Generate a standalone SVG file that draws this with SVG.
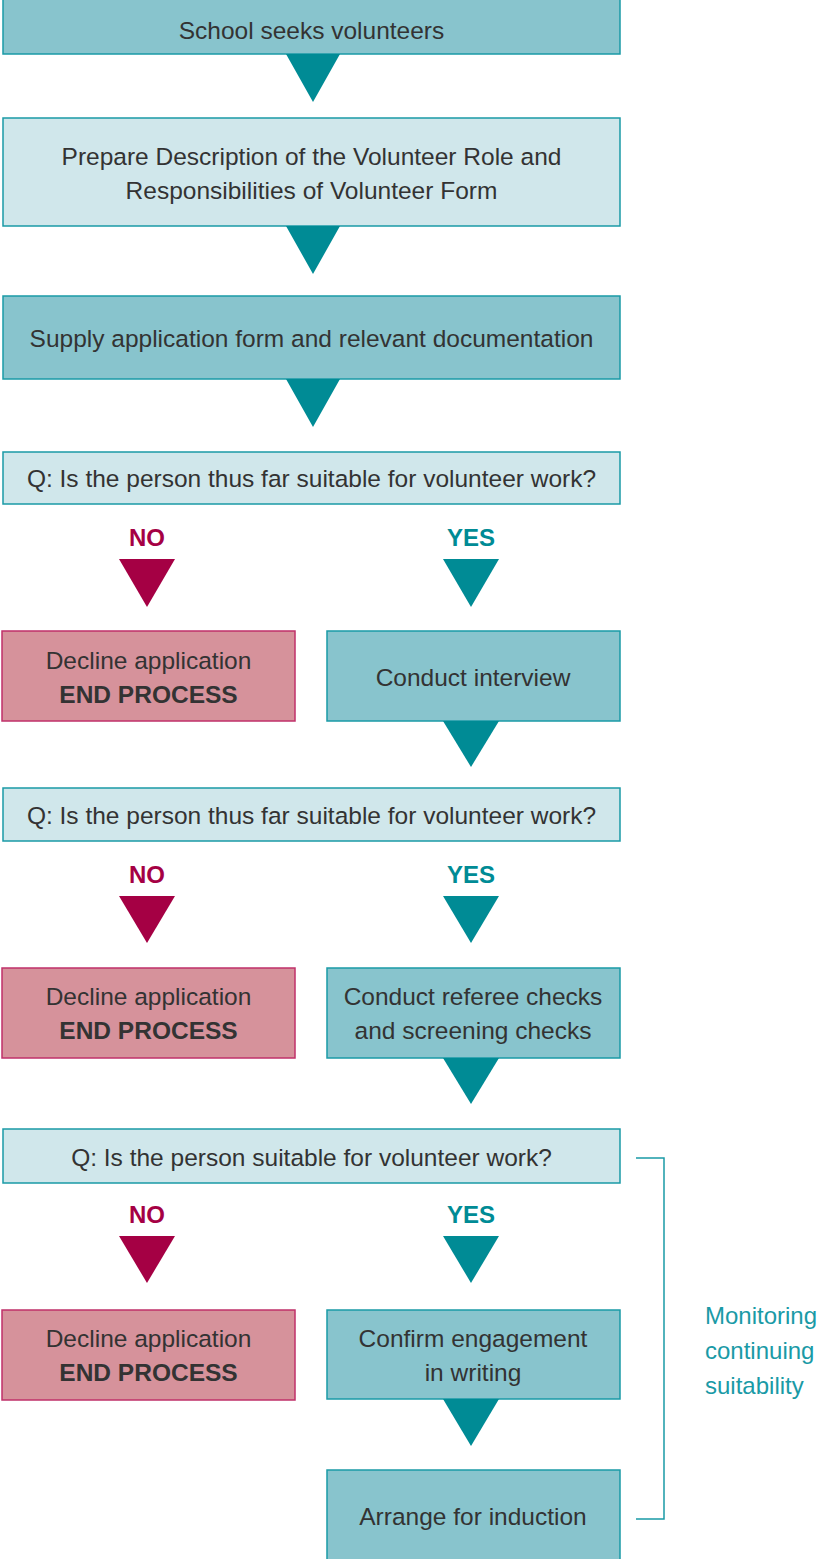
<svg xmlns="http://www.w3.org/2000/svg" width="821" height="1559" viewBox="0 0 821 1559">
<style>
.mid{fill:#88c4cd;stroke:#1a9aa6;stroke-width:1.5}
.lt{fill:#d0e7eb;stroke:#1a9aa6;stroke-width:1.5}
.pk{fill:#d6929b;stroke:#c0306a;stroke-width:1.5}
.ta{fill:#008b95}
.tm{fill:#a50044}
text{font-family:"Liberation Sans",Arial,sans-serif;font-size:24.5px;fill:#333333;text-anchor:middle}
.b{font-weight:bold}
.no{font-weight:bold;font-size:24px;fill:#a50044}
.yes{font-weight:bold;font-size:24px;fill:#008b95}
.mon{fill:#1a9aa6;text-anchor:start;font-size:24px}
.br{fill:none;stroke:#1a9aa6;stroke-width:1.5}
</style>
<g id="n1"><rect class="mid" x="3" y="-2" width="617" height="56"/><text x="311.5" y="39">School seeks volunteers</text></g>
<g id="n2"><rect class="lt" x="3" y="118" width="617" height="108"/><text x="311.5" y="165">Prepare Description of the Volunteer Role and</text><text x="311.5" y="199">Responsibilities of Volunteer Form</text></g>
<g id="n3"><rect class="mid" x="3" y="296" width="617" height="83"/><text x="311.5" y="347">Supply application form and relevant documentation</text></g>
<g id="q1"><rect class="lt" x="3" y="452" width="617" height="52"/><text x="311.5" y="487">Q: Is the person thus far suitable for volunteer work?</text></g>
<g id="no1"><text class="no" x="147" y="546">NO</text></g>
<g id="yes1"><text class="yes" x="471" y="546">YES</text></g>
<g id="d1"><rect class="pk" x="2" y="631" width="293" height="90"/><text x="148.5" y="669">Decline application</text><text class="b" x="148.5" y="703">END PROCESS</text></g>
<g id="c1"><rect class="mid" x="327" y="631" width="293" height="90"/><text x="473" y="686">Conduct interview</text></g>
<g id="q2"><rect class="lt" x="3" y="788" width="617" height="53"/><text x="311.5" y="824">Q: Is the person thus far suitable for volunteer work?</text></g>
<g id="no2"><text class="no" x="147" y="883">NO</text></g>
<g id="yes2"><text class="yes" x="471" y="883">YES</text></g>
<g id="d2"><rect class="pk" x="2" y="968" width="293" height="90"/><text x="148.5" y="1005">Decline application</text><text class="b" x="148.5" y="1039">END PROCESS</text></g>
<g id="c2"><rect class="mid" x="327" y="968" width="293" height="90"/><text x="473" y="1005">Conduct referee checks</text><text x="473" y="1039">and screening checks</text></g>
<g id="q3"><rect class="lt" x="3" y="1129" width="617" height="54"/><text x="311.5" y="1166">Q: Is the person suitable for volunteer work?</text></g>
<g id="no3"><text class="no" x="147" y="1223">NO</text></g>
<g id="yes3"><text class="yes" x="471" y="1223">YES</text></g>
<g id="d3"><rect class="pk" x="2" y="1310" width="293" height="90"/><text x="148.5" y="1347">Decline application</text><text class="b" x="148.5" y="1381">END PROCESS</text></g>
<g id="c3"><rect class="mid" x="327" y="1310" width="293" height="89"/><text x="473" y="1347">Confirm engagement</text><text x="473" y="1381">in writing</text></g>
<g id="c4"><rect class="mid" x="327" y="1470" width="293" height="92"/><text x="473" y="1525">Arrange for induction</text></g>
<g id="mon"><text class="mon" x="705" y="1324">Monitoring</text><text class="mon" x="705" y="1359">continuing</text><text class="mon" x="705" y="1394">suitability</text></g>
<g id="connectors">
<polygon class="ta" points="286,54 340,54 313,102"/>
<polygon class="ta" points="286,226 340,226 313,274"/>
<polygon class="ta" points="286,379 340,379 313,427"/>
<polygon class="tm" points="119,559 175,559 147,607"/>
<polygon class="ta" points="443,559 499,559 471,607"/>
<polygon class="ta" points="443,721 499,721 471,767"/>
<polygon class="tm" points="119,896 175,896 147,943"/>
<polygon class="ta" points="443,896 499,896 471,943"/>
<polygon class="ta" points="443,1058 499,1058 471,1104"/>
<polygon class="tm" points="119,1236 175,1236 147,1283"/>
<polygon class="ta" points="443,1236 499,1236 471,1283"/>
<polygon class="ta" points="443,1399 499,1399 471,1446"/>
<polyline class="br" points="636,1158 664,1158 664,1519 636,1519"/>
</g>
</svg>
